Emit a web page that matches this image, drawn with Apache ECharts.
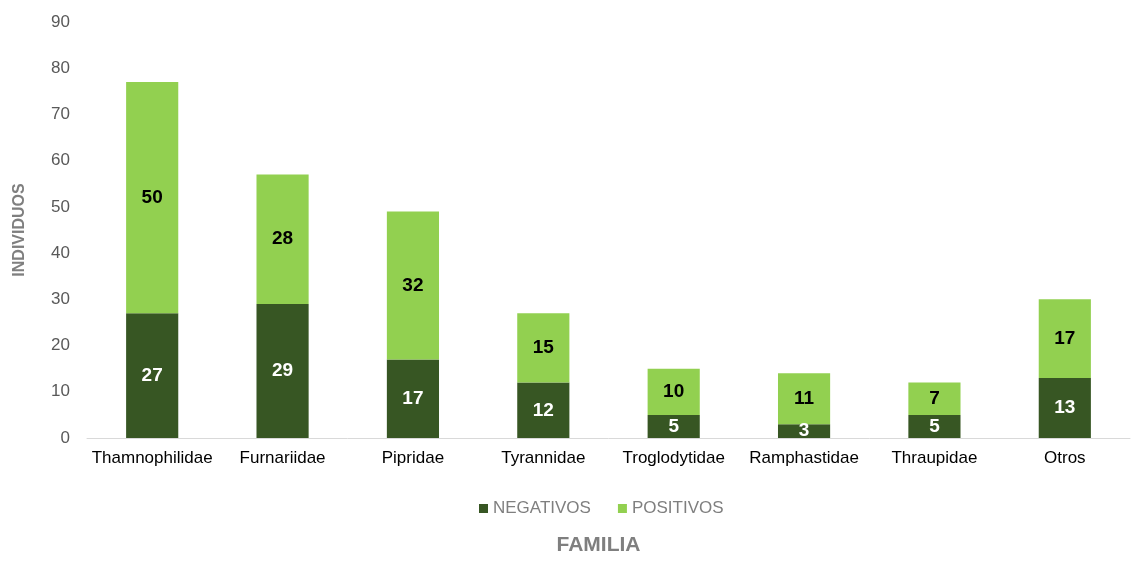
<!DOCTYPE html>
<html><head><meta charset="utf-8">
<script src="https://cdn.jsdelivr.net/npm/echarts@6/dist/echarts.min.js"></script>
<style>html,body{margin:0;padding:0;background:#fff}#c{width:1133px;height:561px}</style>
</head><body><div id="c"></div>
<script>
const categories = ['Thamnophilidae','Furnariidae','Pipridae','Tyrannidae','Troglodytidae','Ramphastidae','Thraupidae','Otros'];
const negativos = [27,29,17,12,5,3,5,13];
const positivos = [50,28,32,15,10,11,7,17];
const yTicks = {min:0, max:90, interval:10};

const chart = echarts.init(document.getElementById('c'));
const font = 'Arial, "Liberation Sans", sans-serif';
chart.setOption({
  animation:false,
  textStyle:{fontFamily:font},
  grid:{left:87,right:3,top:22,bottom:123},
  legend:{
    data:['NEGATIVOS','POSITIVOS'],
    top:495, left:474,
    itemWidth:9,itemHeight:9,itemGap:27,
    icon:'rect',
    textStyle:{color:'#7f7f7f',fontSize:17,fontFamily:font}
  },
  xAxis:{
    type:'category', data:categories,
    name:'FAMILIA', nameLocation:'middle', nameGap:97,
    nameTextStyle:{color:'#7f7f7f',fontSize:21,fontWeight:'bold',fontFamily:font,padding:[0,20,0,0]},
    axisLine:{lineStyle:{color:'#d9d9d9',width:1}},
    axisTick:{show:false},
    axisLabel:{color:'#000',fontSize:17,margin:12,fontFamily:font,interval:0}
  },
  yAxis:{
    type:'value', min:yTicks.min, max:yTicks.max, interval:yTicks.interval,
    name:'INDIVIDUOS', nameLocation:'middle', nameGap:59,
    nameTextStyle:{color:'#7f7f7f',fontSize:16,fontWeight:'bold',fontFamily:font},
    splitLine:{show:false},
    axisLine:{show:false},axisTick:{show:false},
    axisLabel:{color:'#595959',fontSize:17,margin:17,fontFamily:font}
  },
  series:[
    {name:'NEGATIVOS',type:'bar',stack:'t',data:negativos,barWidth:'40%',
     itemStyle:{color:'#375623'},
     label:{show:true,position:'inside',color:'#fff',fontSize:19,fontWeight:'bold',fontFamily:font}},
    {name:'POSITIVOS',type:'bar',stack:'t',data:positivos,barWidth:'40%',
     itemStyle:{color:'#92d050'},
     label:{show:true,position:'inside',color:'#000',fontSize:19,fontWeight:'bold',fontFamily:font}}
  ]
});
</script></body></html>
